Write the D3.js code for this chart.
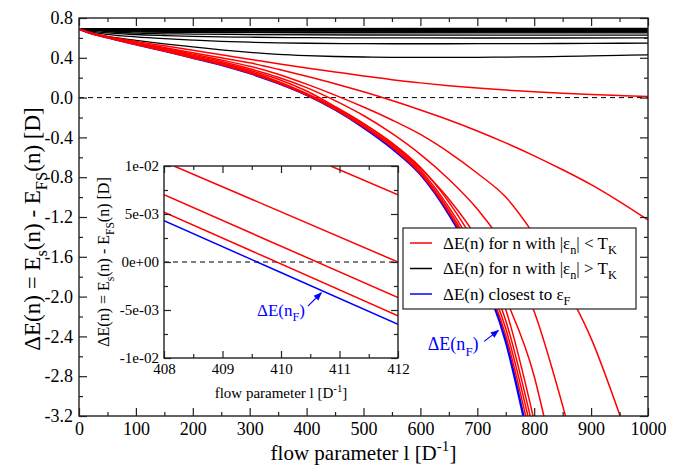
<!DOCTYPE html>
<html>
<head>
<meta charset="utf-8">
<script src="https://cdn.jsdelivr.net/npm/d3@7"></script>
<style>
body { margin: 0; background: #fff; }
svg { display: block; }
svg text { font-family: "Liberation Serif", "Times New Roman", Times, "DejaVu Serif", serif !important; fill: #000; }
</style>
</head>
<body>
<div id="chart"></div>
<script>
// ---- data: main panel ----
var xTicks = [0, 100, 200, 300, 400, 500, 600, 700, 800, 900, 1000];
var xTickLabels = ["0", "100", "200", "300", "400", "500", "600", "700", "800", "900", "1000"];
var xMinor = [50, 150, 250, 350, 450, 550, 650, 750, 850, 950];
var yTicks = [0.8, 0.4, 0, -0.4, -0.8, -1.2, -1.6, -2.0, -2.4, -2.8, -3.2];
var yTickLabels = ["0.8", "0.4", "0.0", "-0.4", "-0.8", "-1.2", "-1.6", "-2.0", "-2.4", "-2.8", "-3.2"];
var yMinor = [0.6, 0.2, -0.2, -0.6, -1.0, -1.4, -1.8, -2.2, -2.6, -3.0];

// levels with |eps_n| > T_K (black)
var blackCurves = [
  [[0, 0.69], [300, 0.694], [1000, 0.696]],
  [[0, 0.69], [500, 0.692], [1000, 0.692]],
  [[0, 0.69], [100, 0.689], [500, 0.688], [1000, 0.688]],
  [[0, 0.69], [100, 0.686], [500, 0.684], [1000, 0.684]],
  [[0, 0.69], [50, 0.685], [100, 0.682], [300, 0.68], [1000, 0.679]],
  [[0, 0.69], [50, 0.681], [100, 0.677], [300, 0.674], [1000, 0.673]],
  [[0, 0.69], [50, 0.678], [100, 0.672], [300, 0.668], [1000, 0.666]],
  [[0, 0.69], [50, 0.674], [100, 0.667], [200, 0.662], [400, 0.659], [1000, 0.658]],
  [[0, 0.69], [50, 0.67], [100, 0.661], [200, 0.655], [400, 0.652], [1000, 0.65]],
  [[0, 0.69], [50, 0.662], [100, 0.648], [200, 0.638], [300, 0.633], [500, 0.629], [1000, 0.627]],
  [[0, 0.69], [25, 0.666], [50, 0.65], [100, 0.634], [150, 0.624], [200, 0.616], [300, 0.607], [400, 0.602], [500, 0.6], [700, 0.599], [1000, 0.6]],
  [[0, 0.69], [25, 0.656], [50, 0.636], [100, 0.61], [150, 0.592], [200, 0.578], [250, 0.566], [300, 0.557], [350, 0.55], [400, 0.546], [500, 0.542], [600, 0.541], [700, 0.542], [800, 0.543], [900, 0.545], [1000, 0.547]],
  [[0, 0.69], [25, 0.64], [50, 0.615], [100, 0.575], [150, 0.54], [200, 0.51], [250, 0.48], [300, 0.455], [350, 0.435], [400, 0.422], [450, 0.413], [500, 0.408], [550, 0.405], [600, 0.404], [650, 0.404], [700, 0.405], [750, 0.407], [800, 0.41], [850, 0.414], [900, 0.419], [950, 0.425], [1000, 0.43]]
];

// levels with |eps_n| < T_K (red)
var redCurves = [
  [[0, 0.69], [25, 0.645], [50, 0.615], [100, 0.565], [150, 0.52], [200, 0.475], [250, 0.43], [300, 0.385], [350, 0.34], [400, 0.298], [450, 0.258], [500, 0.218], [550, 0.18], [600, 0.148], [650, 0.12], [700, 0.096], [750, 0.076], [800, 0.058], [850, 0.043], [900, 0.031], [950, 0.021], [1000, 0.012]],
  [[0, 0.69], [25, 0.64], [50, 0.61], [100, 0.555], [150, 0.503], [200, 0.45], [250, 0.4], [300, 0.35], [350, 0.285], [400, 0.215], [450, 0.14], [500, 0.058], [550, -0.03], [600, -0.125], [650, -0.225], [700, -0.335], [750, -0.455], [800, -0.585], [850, -0.725], [900, -0.875], [950, -1.045], [1000, -1.23]],
  [[0, 0.69], [25, 0.64], [50, 0.608], [100, 0.55], [150, 0.495], [200, 0.437], [250, 0.378], [300, 0.315], [350, 0.235], [400, 0.135], [450, 0.025], [500, -0.095], [550, -0.225], [600, -0.37], [650, -0.55], [700, -0.76], [750, -1.0], [800, -1.38], [850, -1.85], [900, -2.42], [951, -3.2]],
  [[0, 0.69], [25, 0.64], [50, 0.607], [100, 0.545], [150, 0.487], [200, 0.425], [250, 0.362], [300, 0.29], [350, 0.205], [400, 0.1], [450, -0.03], [500, -0.18], [550, -0.36], [600, -0.57], [650, -0.82], [700, -1.12], [750, -1.52], [800, -2.15], [855, -3.2]],
  [[0, 0.69], [25, 0.64], [50, 0.605], [100, 0.54], [150, 0.48], [200, 0.415], [250, 0.35], [300, 0.275], [350, 0.185], [400, 0.066], [450, -0.09], [500, -0.26], [550, -0.46], [600, -0.71], [650, -1.02], [700, -1.42], [750, -2.02], [800, -2.8], [817, -3.2]],
  [[0, 0.69], [25, 0.64], [50, 0.605], [100, 0.536], [150, 0.472], [200, 0.403], [250, 0.34], [300, 0.262], [350, 0.163], [400, 0.041], [450, -0.1], [500, -0.265], [550, -0.455], [600, -0.7], [650, -1.05], [700, -1.51], [750, -2.13], [798, -3.2]],
  [[0, 0.69], [25, 0.64], [50, 0.605], [100, 0.535], [150, 0.471], [200, 0.402], [250, 0.336], [300, 0.255], [350, 0.155], [400, 0.034], [450, -0.11], [500, -0.28], [550, -0.475], [600, -0.73], [650, -1.1], [700, -1.58], [750, -2.24], [793, -3.2]],
  [[0, 0.69], [25, 0.64], [50, 0.605], [100, 0.535], [150, 0.47], [200, 0.401], [250, 0.333], [300, 0.25], [350, 0.15], [400, 0.03], [450, -0.115], [500, -0.29], [550, -0.49], [600, -0.75], [650, -1.13], [700, -1.63], [750, -2.32], [789, -3.2]],
  [[0, 0.69], [25, 0.64], [50, 0.605], [100, 0.535], [150, 0.47], [200, 0.4], [250, 0.331], [300, 0.247], [350, 0.147], [400, 0.028], [450, -0.118], [500, -0.295], [550, -0.5], [600, -0.765], [650, -1.155], [700, -1.67], [750, -2.39], [785, -3.2]]
];

// level closest to eps_F (blue)
var blueCurve = [[0, 0.69], [25, 0.64], [50, 0.605], [100, 0.535], [150, 0.47], [200, 0.4], [250, 0.33], [300, 0.245], [350, 0.145], [400, 0.027], [450, -0.12], [500, -0.3], [550, -0.51], [600, -0.77], [650, -1.17], [700, -1.7], [750, -2.45], [781, -3.2]];

// ---- data: inset ----
var insetXTicks = [408, 409, 410, 411, 412];
var insetXLabels = ["408", "409", "410", "411", "412"];
var insetXMinor = [408.5, 409.5, 410.5, 411.5];
var insetYTicks = [0.01, 0.005, 0, -0.005, -0.01];
var insetYLabels = ["1e-02", "5e-03", "0e+00", "-5e-03", "-1e-02"];
var insetYMinor = [0.0075, 0.0025, -0.0025, -0.0075];
var insetRed = [
  [[410.85, 0.01], [412, 0.007]],
  [[408.17, 0.01], [412, 0.0]],
  [[408, 0.007], [412, -0.0037]],
  [[408, 0.0052], [412, -0.0056]]
];
var insetBlue = [[408, 0.0043], [412, -0.0065]];

// legend entries
var legendColors = ["#ff0000", "#000000", "#0000ff"];
var legendTexts = [
  [["\u0394E(n) for n with |\u03b5", ""], ["n", "sub"], ["| < T", ""], ["K", "sub"]],
  [["\u0394E(n) for n with |\u03b5", ""], ["n", "sub"], ["| > T", ""], ["K", "sub"]],
  [["\u0394E(n) closest to \u03b5", ""], ["F", "sub"]]
];

// ---- layout ----
var W = 681, H = 466;
var plot = {left: 79, right: 648, top: 18, bottom: 416};
var ins = {left: 164, right: 398, top: 166, bottom: 358};
var serif = "'Liberation Serif', 'Times New Roman', Times, 'DejaVu Serif', serif";

var svg = d3.select("#chart").append("svg")
    .attr("width", W)
    .attr("height", H);

var x = d3.scaleLinear().domain([0, 1000]).range([plot.left, plot.right]);
var y = d3.scaleLinear().domain([-3.2, 0.8]).range([plot.bottom, plot.top]);
var xi = d3.scaleLinear().domain([408, 412]).range([ins.left, ins.right]);
var yi = d3.scaleLinear().domain([-0.01, 0.01]).range([ins.bottom, ins.top]);

//writes text made of normal / sub / sup pieces
function richText(sel, parts, size) {
  sel.style("font-family", serif);
  var shift = 0;
  parts.forEach(function(p) {
    var target = p[1] === "sub" ? size * 0.3 : (p[1] === "sup" ? -size * 0.42 : 0);
    var t = sel.append("tspan").attr("dy", target - shift).text(p[0]);
    if (p[1]) t.attr("font-size", size * 0.72);
    shift = target;
  });
  return sel;
}

//draws inward ticks on all four sides of a box
function frameAxes(g, xs, ys, box, xt, xl, xm, yt, yl, ym, big, small, fs, pad) {
  g.append("g").attr("transform", "translate(0," + box.bottom + ")")
    .call(d3.axisBottom(xs).tickValues(xt).tickSize(-big).tickSizeOuter(0).tickPadding(pad)
      .tickFormat(function(d, i) { return xl[i]; }));
  g.append("g").attr("transform", "translate(0," + box.bottom + ")")
    .call(d3.axisBottom(xs).tickValues(xm).tickSize(-small).tickSizeOuter(0).tickFormat(""));
  g.append("g").attr("transform", "translate(0," + box.top + ")")
    .call(d3.axisTop(xs).tickValues(xt).tickSize(-big).tickSizeOuter(0).tickFormat(""));
  g.append("g").attr("transform", "translate(0," + box.top + ")")
    .call(d3.axisTop(xs).tickValues(xm).tickSize(-small).tickSizeOuter(0).tickFormat(""));
  g.append("g").attr("transform", "translate(" + box.left + ",0)")
    .call(d3.axisLeft(ys).tickValues(yt).tickSize(-big).tickSizeOuter(0).tickPadding(pad)
      .tickFormat(function(d, i) { return yl[i]; }));
  g.append("g").attr("transform", "translate(" + box.left + ",0)")
    .call(d3.axisLeft(ys).tickValues(ym).tickSize(-small).tickSizeOuter(0).tickFormat(""));
  g.append("g").attr("transform", "translate(" + box.right + ",0)")
    .call(d3.axisRight(ys).tickValues(yt).tickSize(-big).tickSizeOuter(0).tickFormat(""));
  g.append("g").attr("transform", "translate(" + box.right + ",0)")
    .call(d3.axisRight(ys).tickValues(ym).tickSize(-small).tickSizeOuter(0).tickFormat(""));
  g.selectAll(".domain").remove();
  g.selectAll("g").attr("font-family", serif);
  g.selectAll(".tick line").attr("stroke", "#222").attr("stroke-width", 1.2);
  g.selectAll(".tick text")
    .style("font-family", serif)
    .attr("font-size", fs).attr("fill", "#000");
  g.append("rect")
    .attr("x", box.left).attr("y", box.top)
    .attr("width", box.right - box.left).attr("height", box.bottom - box.top)
    .attr("fill", "none").attr("stroke", "#222").attr("stroke-width", 1.4);
}

// ---- main panel ----
svg.append("clipPath").attr("id", "clipMain").append("rect")
  .attr("x", plot.left).attr("y", plot.top)
  .attr("width", plot.right - plot.left).attr("height", plot.bottom - plot.top);

var line = d3.line()
  .curve(d3.curveMonotoneX)
  .x(function(d) { return x(d[0]); })
  .y(function(d) { return y(d[1]); });

var curves = svg.append("g").attr("clip-path", "url(#clipMain)");

curves.append("line")
  .attr("x1", x(0)).attr("x2", x(1000))
  .attr("y1", y(0)).attr("y2", y(0))
  .attr("stroke", "#000").attr("stroke-width", 1)
  .attr("stroke-dasharray", "5,4");

curves.selectAll(".black").data(blackCurves).enter().append("path")
  .attr("class", "black")
  .attr("d", line)
  .attr("fill", "none").attr("stroke", "#000").attr("stroke-width", 1.3);

curves.append("path")
  .attr("d", line(blueCurve))
  .attr("fill", "none").attr("stroke", "#0000ff").attr("stroke-width", 2.4);

curves.selectAll(".red").data(redCurves).enter().append("path")
  .attr("class", "red")
  .attr("d", line)
  .attr("fill", "none").attr("stroke", "#ff0000").attr("stroke-width", 1.5);

frameAxes(svg.append("g"), x, y, plot, xTicks, xTickLabels, xMinor, yTicks, yTickLabels, yMinor, 8, 4, 18, 6);

// axis titles
richText(svg.append("text")
  .attr("x", (plot.left + plot.right) / 2).attr("y", 460)
  .attr("text-anchor", "middle").attr("font-size", 21),
  [["flow parameter l [D", ""], ["-1", "sup"], ["]", ""]], 21);

richText(svg.append("text")
  .attr("transform", "translate(40,229) rotate(-90)")
  .attr("text-anchor", "middle").attr("font-size", 23),
  [["\u0394E(n) = E", ""], ["s", "sub"], ["(n) - E", ""], ["FS", "sub"], ["(n) [D]", ""]], 23);

// arrow marker
svg.append("defs").append("marker")
  .attr("id", "arrow").attr("viewBox", "0 0 10 10")
  .attr("refX", 9).attr("refY", 5)
  .attr("markerWidth", 7).attr("markerHeight", 7)
  .attr("orient", "auto")
  .append("path").attr("d", "M0,1 L10,5 L0,9 Z").attr("fill", "#0000ff");

// blue annotation in main panel
richText(svg.append("text")
  .attr("x", x(613)).attr("y", y(-2.54))
  .attr("font-size", 18).style("fill", "#0000ff"),
  [["\u0394E(n", ""], ["F", "sub"], [")", ""]], 18);
svg.append("line")
  .attr("x1", x(712)).attr("y1", y(-2.45))
  .attr("x2", x(737)).attr("y2", y(-2.34))
  .attr("stroke", "#0000ff").attr("stroke-width", 1.2)
  .attr("marker-end", "url(#arrow)");

// ---- inset ----
var inset = svg.append("g");
inset.append("rect")
  .attr("x", ins.left).attr("y", ins.top)
  .attr("width", ins.right - ins.left).attr("height", ins.bottom - ins.top)
  .attr("fill", "#fff");

svg.append("clipPath").attr("id", "clipInset").append("rect")
  .attr("x", ins.left).attr("y", ins.top)
  .attr("width", ins.right - ins.left).attr("height", ins.bottom - ins.top);

var lineI = d3.line()
  .x(function(d) { return xi(d[0]); })
  .y(function(d) { return yi(d[1]); });

var insetCurves = inset.append("g").attr("clip-path", "url(#clipInset)");
insetCurves.append("line")
  .attr("x1", xi(408)).attr("x2", xi(412))
  .attr("y1", yi(0)).attr("y2", yi(0))
  .attr("stroke", "#000").attr("stroke-width", 1)
  .attr("stroke-dasharray", "5,4");
insetCurves.append("path")
  .attr("d", lineI(insetBlue))
  .attr("fill", "none").attr("stroke", "#0000ff").attr("stroke-width", 1.5);
insetCurves.selectAll(".ired").data(insetRed).enter().append("path")
  .attr("class", "ired")
  .attr("d", lineI)
  .attr("fill", "none").attr("stroke", "#ff0000").attr("stroke-width", 1.5);

frameAxes(inset.append("g"), xi, yi, ins, insetXTicks, insetXLabels, insetXMinor, insetYTicks, insetYLabels, insetYMinor, 7, 4, 15, 5);

richText(inset.append("text")
  .attr("x", (ins.left + ins.right) / 2).attr("y", 398)
  .attr("text-anchor", "middle").attr("font-size", 15),
  [["flow parameter l [D", ""], ["-1", "sup"], ["]", ""]], 15);

richText(inset.append("text")
  .attr("transform", "translate(109," + (ins.top + ins.bottom) / 2 + ") rotate(-90)")
  .attr("text-anchor", "middle").attr("font-size", 16),
  [["\u0394E(n) = E", ""], ["s", "sub"], ["(n) - E", ""], ["FS", "sub"], ["(n) [D]", ""]], 16);

richText(inset.append("text")
  .attr("x", xi(409.59)).attr("y", yi(-0.0056))
  .attr("font-size", 17).style("fill", "#0000ff"),
  [["\u0394E(n", ""], ["F", "sub"], [")", ""]], 17);
inset.append("line")
  .attr("x1", xi(410.46)).attr("y1", yi(-0.0046))
  .attr("x2", xi(410.69)).attr("y2", yi(-0.0032))
  .attr("stroke", "#0000ff").attr("stroke-width", 1.2)
  .attr("marker-end", "url(#arrow)");

// ---- legend ----
var legend = svg.append("g").attr("transform", "translate(403,228)");
legend.append("rect")
  .attr("width", 233).attr("height", 81)
  .attr("fill", "#fff").attr("stroke", "#222").attr("stroke-width", 1.2);
legendTexts.forEach(function(parts, i) {
  var cy = 15 + i * 25.5;
  legend.append("line")
    .attr("x1", 7).attr("x2", 29)
    .attr("y1", cy).attr("y2", cy)
    .attr("stroke", legendColors[i]).attr("stroke-width", 1.5);
  richText(legend.append("text")
    .attr("x", 40).attr("y", cy + 5.5)
    .attr("font-size", 17), parts, 17);
});
</script>
</body>
</html>
